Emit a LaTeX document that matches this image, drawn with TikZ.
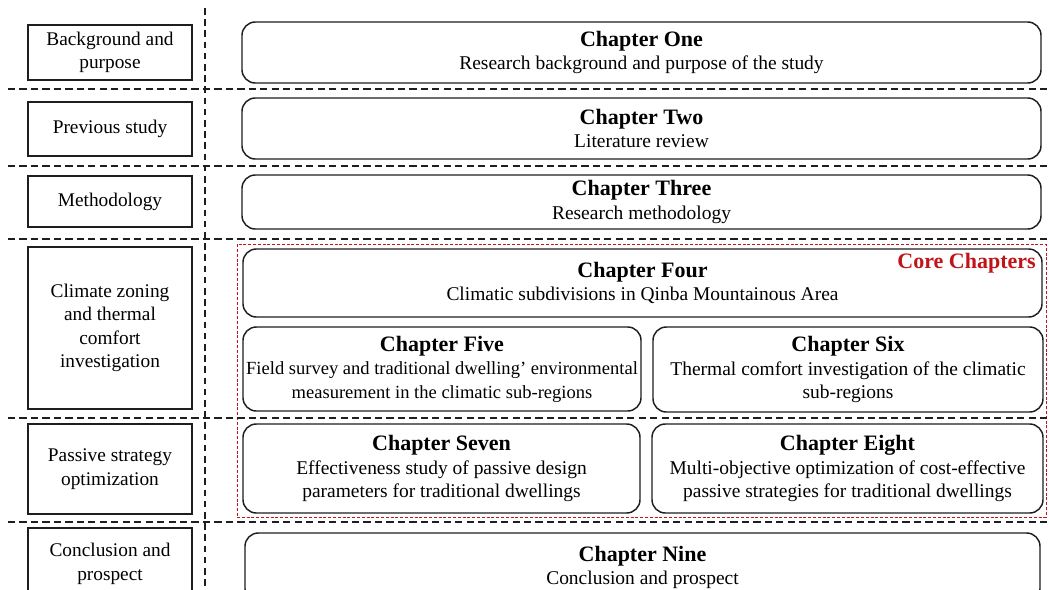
\documentclass[tikz,border=0pt]{standalone}
\usepackage{fontspec}
\setmainfont{Liberation Serif}
\definecolor{corered}{RGB}{192,20,24}
\definecolor{ink}{RGB}{30,30,30}
\tikzset{
  topicbox/.style={draw=ink, line width=1.1pt, inner sep=0pt, outer sep=0pt,
    align=center, font=\fontsize{14.5}{17.5}\selectfont},
  chapbox/.style={draw=ink, line width=1.1pt, rounded corners=10pt, inner sep=0pt,
    outer sep=0pt, align=center, font=\fontsize{14.6}{17.6}\selectfont},
  rowsep/.style={draw=ink, line width=1.1pt, dash pattern=on 5.4pt off 3.2pt},
  colsep/.style={draw=ink, line width=1.1pt, dash pattern=on 5pt off 3.4pt},
  coreframe/.style={draw=corered, line width=0.6pt, dash pattern=on 2.2pt off 1.4pt,
    inner sep=0pt, outer sep=0pt},
}
\newcommand\chtitle[1]{{\fontsize{16.5}{19}\selectfont\bfseries #1}}
% \placebox{name}{x1}{y1}{x2}{y2}{style}{text}: box spanning the given corners
\newcommand\placebox[7]{%
  \node[#6, minimum width={(#4-#2)*0.75pt}, minimum height={(#5-#3)*0.75pt}]
    (#1) at ({(#2+#4)/2},{(#3+#5)/2}) {#7};}
\begin{document}
\begin{tikzpicture}[x=0.75pt, y=-0.75pt]
  \useasboundingbox (0,0) rectangle (1049,589);
  \clip (0,0) rectangle (1049,589);
  \fill[white] (0,0) rectangle (1049,589);

  % frame around the core chapters
  \placebox{core}{237}{244}{1046}{517}{coreframe}{}

  % separators between the rows and the two columns
  \coordinate (vtop) at (205,8);
  \coordinate (vbot) at (205,595);
  \draw[colsep] (vtop) -- (vbot);
  \foreach \yy/\nm in {89/a,166/b,239/c,418/d,522/e}{
    \coordinate (s\nm l) at (8,\yy);
    \coordinate (s\nm r) at (1055,\yy);
    \draw[rowsep] (s\nm l) -- (s\nm r);
  }

  % research stages
  \placebox{bg}{28}{25}{192}{80}{topicbox}{Background and\\purpose}
  \placebox{prev}{28}{102}{192}{156}{topicbox}{Previous study}
  \placebox{meth}{28}{176}{192}{227}{topicbox}{Methodology}
  \placebox{clim}{28}{247}{192}{409}{topicbox}{Climate zoning\\and thermal\\comfort\\investigation}
  \placebox{pass}{28}{424}{192}{514}{topicbox}{Passive strategy\\optimization}
  \placebox{conc}{28}{528}{192}{600}{topicbox}{Conclusion and\\prospect}

  % chapters
  \placebox{ch1}{242}{22}{1041}{83}{chapbox}{\chtitle{Chapter One}\\Research background and purpose of the study}
  \placebox{ch2}{242}{98}{1041}{159}{chapbox}{\chtitle{Chapter Two}\\Literature review}
  \placebox{ch3}{242}{175}{1041}{229}{chapbox}{\chtitle{Chapter Three}\\Research methodology}
  \placebox{ch4}{243}{249}{1042}{317}{chapbox}{\chtitle{Chapter Four}\\Climatic subdivisions in Qinba Mountainous Area}
  \placebox{ch5}{243}{327}{641}{411}{chapbox}{\chtitle{Chapter Five}\\{\fontsize{13.9}{17.6}\selectfont Field survey and traditional dwelling' environmental}\\{\fontsize{13.9}{17.6}\selectfont measurement in the climatic sub-regions}}
  \placebox{ch6}{653}{327}{1043}{412}{chapbox}{\chtitle{Chapter Six}\\Thermal comfort investigation of the climatic\\sub-regions}
  \placebox{ch7}{243}{424}{640}{513}{chapbox}{\chtitle{Chapter Seven}\\Effectiveness study of passive design\\parameters for traditional dwellings}
  \placebox{ch8}{652}{424}{1043}{513}{chapbox}{\chtitle{Chapter Eight}\\Multi-objective optimization of cost-effective\\passive strategies for traditional dwellings}
  \placebox{ch9}{245}{533}{1040}{602}{chapbox}{\chtitle{Chapter Nine}\\Conclusion and prospect}

  \node[anchor=north east, inner sep=0pt, text=corered,
        font=\fontsize{16.5}{19}\selectfont\bfseries] (corelabel) at (1036,253) {Core Chapters};
\end{tikzpicture}
\end{document}
